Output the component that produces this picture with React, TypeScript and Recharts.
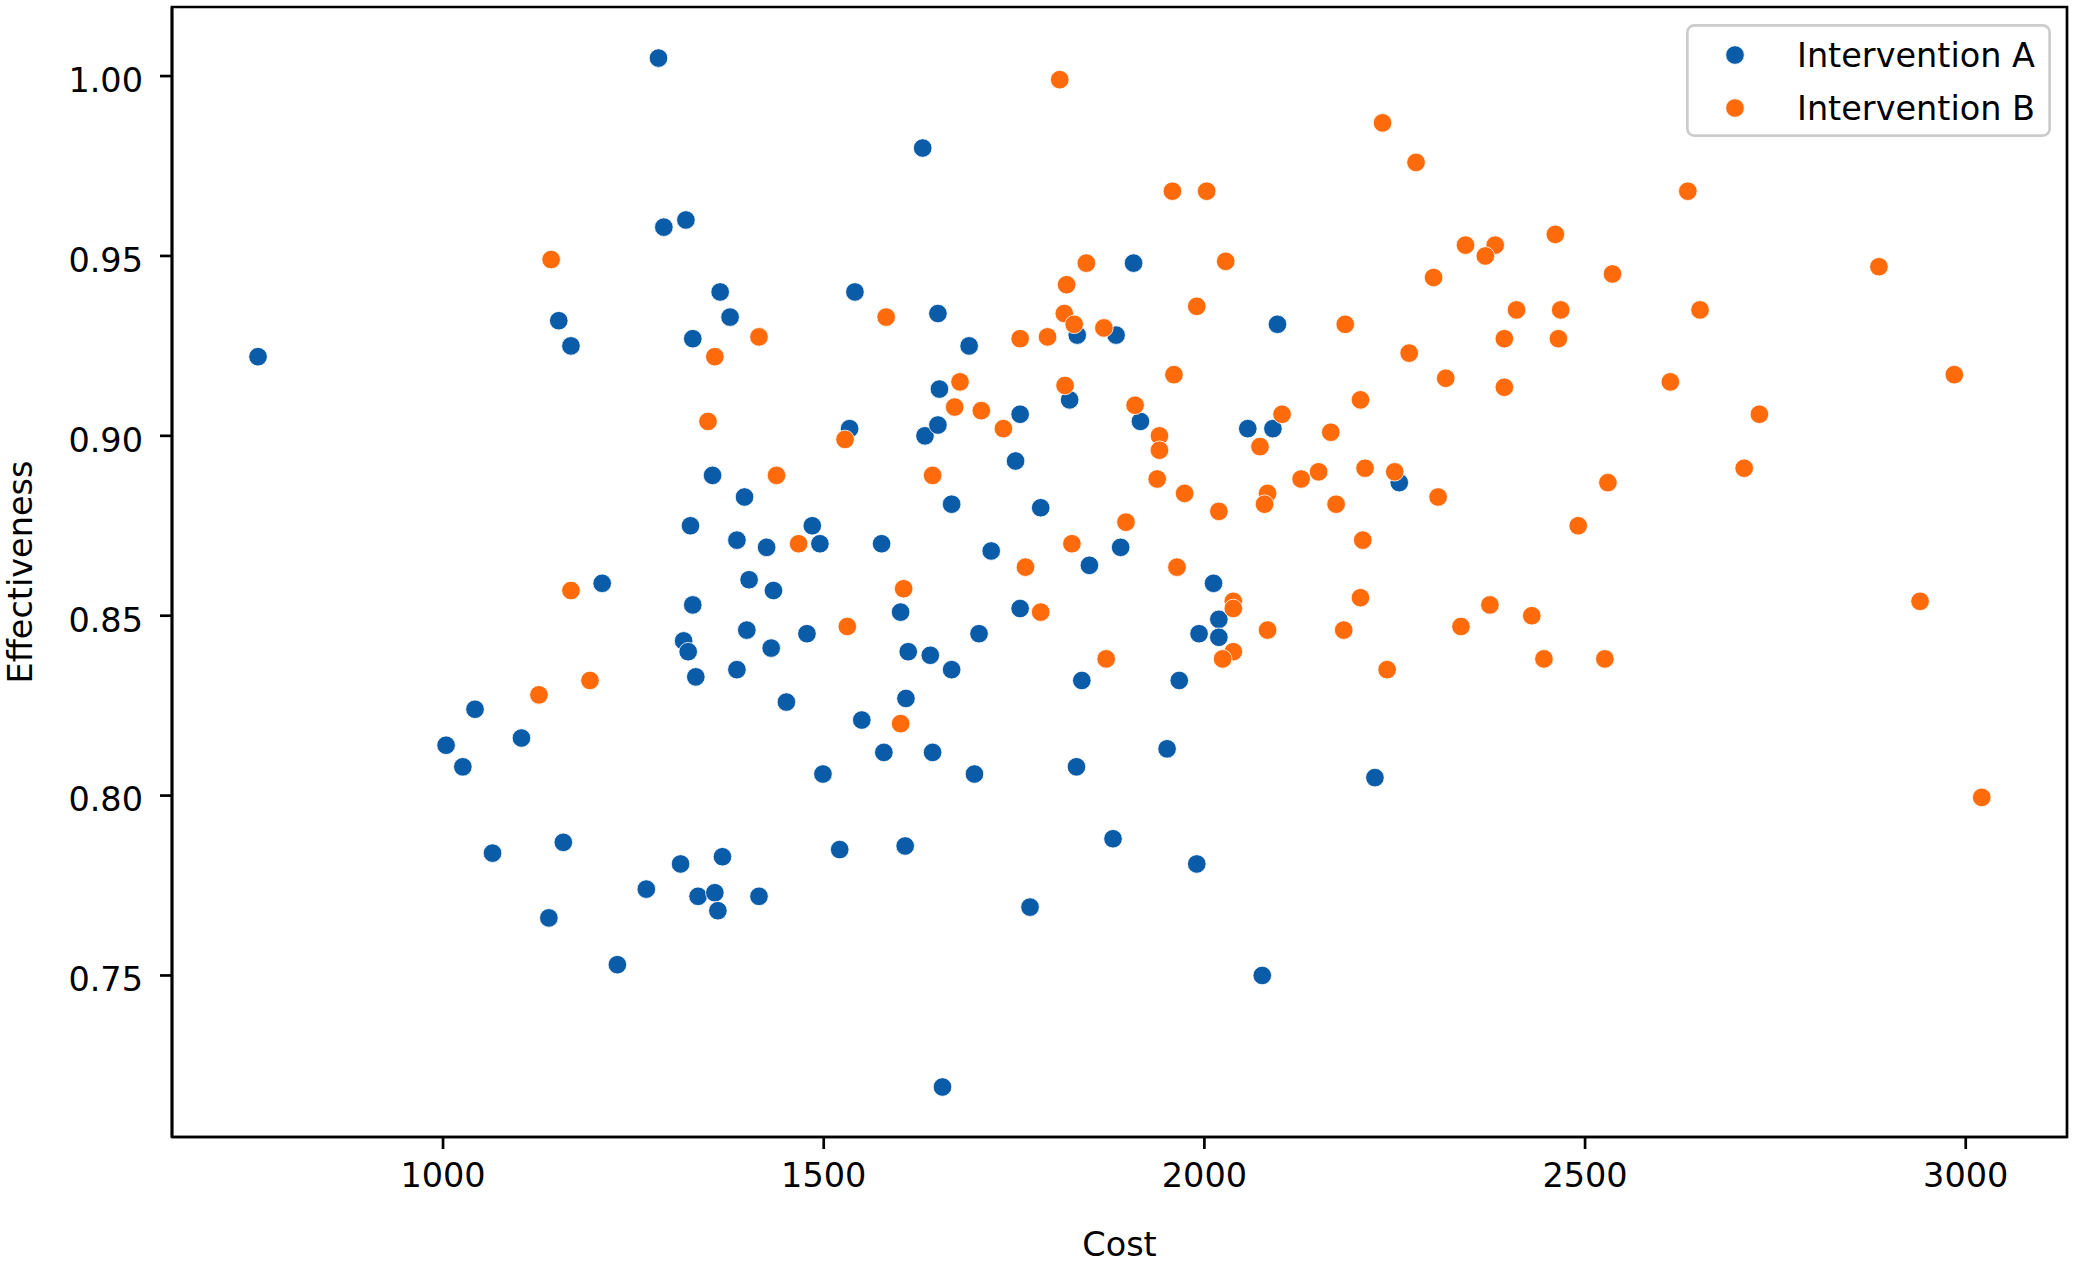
import React from "react";
import { ScatterChart, Scatter, XAxis, YAxis, Legend, ReferenceArea } from "recharts";

const costA = [
  757, 1283, 1290, 1319, 1152, 1168, 1328, 1364, 1377, 1630,
  1541, 1650, 1691, 1534, 1633, 1652, 1650, 1758, 1752, 1668,
  1785, 1354, 1396, 1325, 1386, 1485, 1495, 1425, 1576, 1402,
  1434, 1209, 1328, 1399, 1316, 1322, 1332, 1386, 1431, 1478,
  1451, 1601, 1611, 1640, 1668, 1704, 1608, 1550, 1579, 1643,
  1499, 1698, 1720, 1758, 1849, 1890, 1833, 1884, 1907, 1823,
  1916, 2057, 2090, 2096, 2256, 2012, 2019, 2019, 1993, 1967,
  1839, 1951, 1832, 1880, 1990, 2076, 2224, 1771, 1656, 1607,
  1521, 1367, 1312, 1267, 1335, 1357, 1361, 1415, 1139, 1229,
  1158, 1065, 1004, 1026, 1103, 1042,
];
const effA = [
  0.922, 1.005, 0.958, 0.96, 0.932, 0.925, 0.927, 0.94, 0.933, 0.98,
  0.94, 0.934, 0.925, 0.902, 0.9, 0.913, 0.903, 0.906, 0.893, 0.881,
  0.88, 0.889, 0.883, 0.875, 0.871, 0.875, 0.87, 0.869, 0.87, 0.86,
  0.857, 0.859, 0.853, 0.846, 0.843, 0.84, 0.833, 0.835, 0.841, 0.845,
  0.826, 0.851, 0.84, 0.839, 0.835, 0.845, 0.827, 0.821, 0.812, 0.812,
  0.806, 0.806, 0.868, 0.852, 0.864, 0.869, 0.928, 0.928, 0.948, 0.91,
  0.904, 0.902, 0.902, 0.931, 0.887, 0.859, 0.849, 0.844, 0.845, 0.832,
  0.832, 0.813, 0.808, 0.788, 0.781, 0.75, 0.805, 0.769, 0.719, 0.786,
  0.785, 0.783, 0.781, 0.774, 0.772, 0.773, 0.768, 0.772, 0.766, 0.753,
  0.787, 0.784, 0.814, 0.808, 0.816, 0.824,
];
const costB = [
  1810, 2234, 2278, 1958, 2003, 2635, 2461, 2343, 2382, 2369,
  1142, 2028, 1845, 2301, 2536, 2886, 1819, 1990, 2410, 2468,
  2651, 1816, 1582, 1829, 2185, 1868, 1415, 1758, 1794, 2394,
  2465, 2269, 1357, 1960, 2317, 2394, 2612, 2985, 1679, 1817,
  2205, 1672, 1707, 1909, 2102, 2729, 1348, 1736, 2166, 1528,
  1941, 1941, 2073, 2127, 2150, 2211, 2250, 2530, 2709, 1438,
  1643, 1938, 1974, 2019, 2083, 2079, 2173, 2307, 2491, 1897,
  1826, 1467, 2208, 1765, 1964, 1605, 1168, 2038, 2038, 2205,
  2375, 2430, 2940, 2337, 1531, 1785, 2083, 2183, 2038, 2024,
  1871, 2240, 2446, 2526, 1193, 1126, 1601, 3021,
];
const effB = [
  0.999, 0.987, 0.976, 0.968, 0.968, 0.968, 0.956, 0.953, 0.953, 0.95,
  0.949, 0.9485, 0.948, 0.944, 0.945, 0.947, 0.942, 0.936, 0.935, 0.935,
  0.935, 0.934, 0.933, 0.931, 0.931, 0.93, 0.9275, 0.927, 0.9275, 0.927,
  0.927, 0.923, 0.922, 0.917, 0.916, 0.9135, 0.915, 0.917, 0.915, 0.914,
  0.91, 0.908, 0.907, 0.9085, 0.906, 0.906, 0.904, 0.902, 0.901, 0.899,
  0.9, 0.896, 0.897, 0.888, 0.89, 0.891, 0.89, 0.887, 0.891, 0.889,
  0.889, 0.888, 0.884, 0.879, 0.884, 0.881, 0.881, 0.883, 0.875, 0.876,
  0.87, 0.87, 0.871, 0.8635, 0.8635, 0.8575, 0.857, 0.854, 0.852, 0.855,
  0.853, 0.85, 0.854, 0.847, 0.847, 0.851, 0.846, 0.846, 0.84, 0.838,
  0.838, 0.835, 0.838, 0.838, 0.832, 0.828, 0.82, 0.7995,
];

const xTicks = [1000, 1500, 2000, 2500, 3000];
const yTicks = [0.75, 0.8, 0.85, 0.9, 0.95, 1.0];
const xDomain: [number, number] = [644, 3133];
const yDomain: [number, number] = [0.7051, 1.0192];

const COLOR_A = "#0b5ca8";
const COLOR_B = "#ff6a0a";
const FONT = "DejaVu Sans";
const FS = 33.5;
const LW = 2.7;
const R = 9.3;

const dataA = costA.map((c, i) => ({ cost: c, eff: effA[i] }));
const dataB = costB.map((c, i) => ({ cost: c, eff: effB[i] }));

const makeDot = (color: string) => (props: any) => (
  <circle cx={props.cx} cy={props.cy} r={R} fill={color} stroke="#ffffff" strokeWidth={0.8} />
);

const renderLegend = (props: any) => {
  const payload = props.payload || [];
  return (
    <svg width={365} height={113} style={{ display: "block" }}>
      <rect x={1.35} y={1.35} width={362.3} height={110.3} rx={7} ry={7}
        fill="#ffffff" fillOpacity={0.8} stroke="#cccccc" strokeWidth={LW} />
      {payload.map((entry: any, i: number) => (
        <g key={i}>
          <circle cx={49} cy={31 + i * 53} r={R} fill={entry.color} stroke="#fff" strokeWidth={0.8} />
          <text x={111} y={43 + i * 53} fontFamily={FONT} fontSize={FS} fill="#000">
            {entry.value}
          </text>
        </g>
      ))}
    </svg>
  );
};

const YLabel = (props: any) => {
  const vb = props.viewBox || { x: 0, y: 7, width: 172, height: 1130 };
  const cx = vb.x + 20;
  const cy = vb.y + vb.height / 2;
  return (
    <text x={cx} y={cy} transform={`rotate(-90 ${cx} ${cy})`} textAnchor="middle"
      dominantBaseline="central" fontFamily={FONT} fontSize={FS} fill="#000">
      Effectiveness
    </text>
  );
};

export default function App() {
  return (
    <div style={{ position: "absolute", left: 0, top: 0, width: 2079, height: 1266, background: "#fff" }}>
      <ScatterChart width={2079} height={1266} margin={{ top: 7, right: 12, bottom: 0, left: 0 }}
        style={{ fontFamily: FONT }}>
        <XAxis type="number" dataKey="cost" domain={xDomain} ticks={xTicks} allowDataOverflow
          height={129} tickSize={12} tickMargin={14}
          axisLine={{ stroke: "#000", strokeWidth: LW }}
          tickLine={{ stroke: "#000", strokeWidth: LW }}
          tick={{ fill: "#000", fontSize: FS, fontFamily: FONT }}
          label={{ value: "Cost", position: "insideBottom", offset: 10, fill: "#000", fontSize: FS, fontFamily: FONT }} />
        <YAxis type="number" dataKey="eff" domain={yDomain} ticks={yTicks} allowDataOverflow
          width={172} tickSize={12} tickMargin={17}
          tickFormatter={(v: number) => v.toFixed(2)}
          axisLine={{ stroke: "#000", strokeWidth: LW }}
          tickLine={{ stroke: "#000", strokeWidth: LW }}
          tick={{ fill: "#000", fontSize: FS, fontFamily: FONT, dy: 4 }}
          label={{ content: YLabel }} />
        <Scatter name="Intervention A" data={dataA} fill={COLOR_A} isAnimationActive={false} shape={makeDot(COLOR_A)} />
        <Scatter name="Intervention B" data={dataB} fill={COLOR_B} isAnimationActive={false} shape={makeDot(COLOR_B)} />
        <ReferenceArea x1={xDomain[0]} x2={xDomain[1]} y1={yDomain[0]} y2={yDomain[1]}
          fill="none" fillOpacity={0} stroke="#000" strokeWidth={LW} ifOverflow="visible" />
        <Legend layout="vertical" align="center" verticalAlign="middle" content={renderLegend}
          wrapperStyle={{ top: 24, left: 1686, width: 365, height: 113 }} />
      </ScatterChart>
    </div>
  );
}
